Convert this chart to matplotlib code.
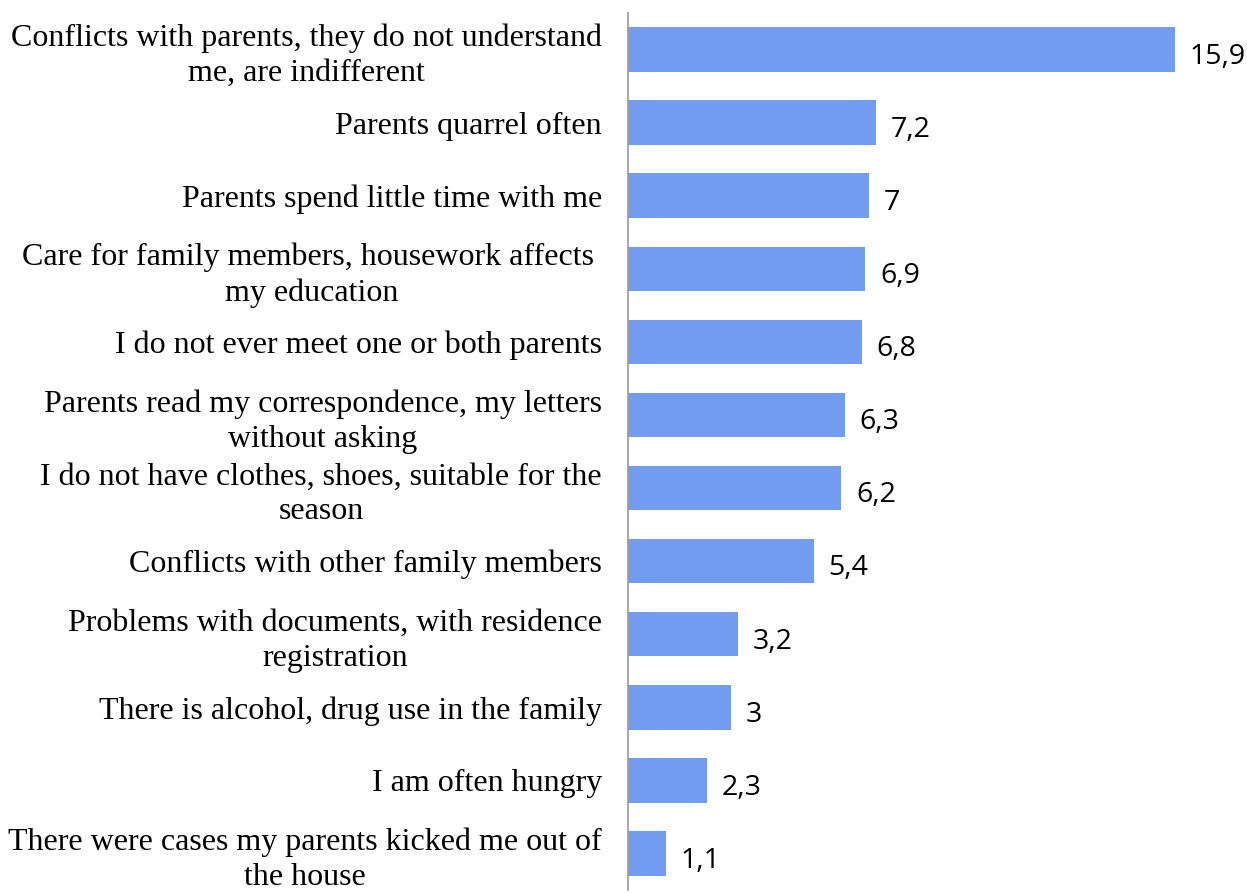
import numpy as np
import matplotlib.pyplot as plt

labels = [
    "Conflicts with parents, they do not understand\nme, are indifferent",
    "Parents quarrel often",
    "Parents spend little time with me",
    "Care for family members, housework affects \nmy education",
    "I do not ever meet one or both parents",
    "Parents read my correspondence, my letters\nwithout asking",
    "I do not have clothes, shoes, suitable for the\nseason",
    "Conflicts with other family members",
    "Problems with documents, with residence\nregistration",
    "There is alcohol, drug use in the family",
    "I am often hungry",
    "There were cases my parents kicked me out of\nthe house",
]
values = [15.9, 7.2, 7, 6.9, 6.8, 6.3, 6.2, 5.4, 3.2, 3, 2.3, 1.1]
value_text = ["15,9", "7,2", "7", "6,9", "6,8", "6,3", "6,2", "5,4", "3,2", "3", "2,3", "1,1"]

fig = plt.figure(figsize=(12.47, 8.93), dpi=100)
ax = fig.add_axes([628 / 1247, 3 / 893, 1 - 628 / 1247, 877 / 893])

y = np.arange(len(values))
ax.barh(y, values, height=0.61, color="#729cf0")
ax.set_ylim(len(values) - 0.5, -0.5)
ax.set_xlim(0, 18)

for yi, v, t in zip(y, values, value_text):
    ax.text(v + 0.43, yi + 0.1, t, va="center", ha="left", fontsize=20.5,
            family="Open Sans", color="black")

ax.set_yticks(y)
ax.set_yticklabels(labels, family="Liberation Serif", fontsize=23,
                   multialignment="center", linespacing=1.27)
ax.tick_params(axis="y", length=0, pad=18.7)
ax.set_xticks([])
for s in ["top", "right", "bottom"]:
    ax.spines[s].set_visible(False)
ax.spines["left"].set_color("#999999")
ax.spines["left"].set_linewidth(1.2)

fig.savefig("out.png", dpi=100)
